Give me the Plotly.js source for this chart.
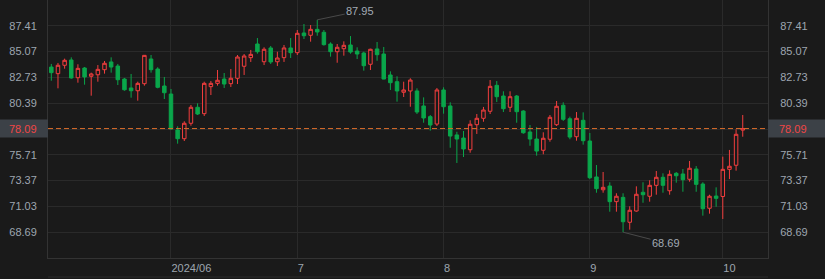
<!DOCTYPE html>
<html>
<head>
<meta charset="utf-8">
<script src="https://cdn.plot.ly/plotly-3.0.1.min.js"></script>
<style>
html,body{margin:0;padding:0;background:#1a1a1a;}
#chart{width:825px;height:279px;}
</style>
</head>
<body>
<div id="chart"></div>
<script>
// Daily OHLC, May 2024 – early Oct 2024 (one entry per trading day)
const openP = [
83.67,83.07,83.83,84.31,82.70,83.58,82.83,82.97,83.43,84.13,83.76,82.58,81.77,81.52,82.16,84.40,83.49,81.95,
81.22,77.96,77.17,78.57,80.02,79.44,81.89,82.19,82.58,82.16,82.65,83.74,84.52,85.76,84.15,85.40,84.15,84.52,85.40,
84.97,86.76,86.55,87.09,86.82,85.76,85.06,85.33,85.67,85.12,84.94,83.92,85.31,84.85,82.95,82.34,81.38,81.50,81.50,80.14,79.17,78.50,
81.59,80.14,77.51,77.23,76.17,78.44,79.02,79.66,82.01,81.04,80.02,81.04,79.68,77.78,77.14,76.12,77.12,78.44,80.20,78.98,77.35,78.84,
76.96,73.70,72.54,72.88,71.46,71.85,69.59,70.61,72.31,71.95,72.94,73.67,72.45,74.03,73.97,73.49,74.42,73.06,70.86,71.97,
71.93,74.39,74.76,77.95];
const highP = [
83.95,84.04,84.43,84.55,83.92,83.67,83.16,83.85,84.22,84.55,83.95,82.68,83.04,82.34,84.76,84.76,83.65,82.77,
81.68,78.29,78.75,80.23,80.38,82.34,82.40,83.40,83.13,83.49,84.76,84.85,85.22,86.30,85.46,85.58,85.06,85.67,86.30,
87.03,87.57,87.48,87.95,87.03,85.91,85.76,86.00,86.48,85.46,85.06,85.33,85.94,85.49,83.28,82.83,82.34,82.65,81.74,80.92,79.32,81.77,
81.83,80.47,77.80,77.87,78.84,79.41,80.05,82.49,82.40,81.47,81.47,81.13,79.75,78.41,78.23,77.75,79.32,80.59,80.47,79.17,79.59,79.56,
77.69,74.78,74.15,73.22,72.22,72.22,71.04,72.85,73.22,73.40,74.24,74.03,74.30,74.15,74.42,75.15,74.69,73.22,72.09,72.76,
75.54,76.15,78.02,79.32];
const lowP = [
82.43,81.74,83.52,82.61,82.25,82.07,81.07,82.34,83.07,83.16,82.04,81.52,80.89,80.62,81.98,83.16,81.74,80.77,
78.00,76.72,76.96,78.35,79.32,79.23,81.13,81.98,81.77,81.86,82.13,82.95,84.13,84.88,83.85,83.95,83.76,84.13,84.49,
84.76,86.21,85.97,86.51,85.61,84.61,84.06,84.70,84.88,84.40,83.34,83.40,84.24,82.56,81.59,80.53,80.95,80.07,79.41,78.62,77.90,78.32,
79.44,76.35,74.97,75.51,75.90,77.60,78.71,79.41,80.50,79.59,79.59,78.62,77.62,76.53,75.63,75.76,76.90,78.32,78.78,77.12,76.99,76.63,
73.51,72.27,72.27,70.55,70.55,68.69,68.92,70.55,71.36,71.46,72.09,72.27,72.09,73.18,72.36,73.27,72.36,70.19,70.37,71.00,
69.89,73.51,74.27,77.35];
const closeP = [
83.16,83.83,84.28,82.68,83.55,82.77,83.04,83.46,84.01,83.67,82.52,81.61,81.52,82.19,84.73,83.43,81.83,81.34,
78.05,77.17,78.57,80.02,79.41,82.19,82.19,82.47,82.13,82.65,84.58,84.67,84.82,85.06,85.28,84.13,84.49,85.40,84.97,
86.73,86.51,87.09,86.85,85.70,85.06,85.46,85.64,85.03,84.85,83.79,85.28,84.79,82.58,82.25,81.50,81.59,82.49,79.59,79.05,78.41,81.59,
80.07,77.41,77.14,76.24,78.48,79.02,79.77,81.92,80.98,79.89,80.98,79.62,77.71,77.14,76.05,77.21,79.11,80.11,78.93,77.32,79.02,76.99,
73.63,72.64,72.76,71.46,71.95,69.64,70.68,72.13,72.09,72.94,73.67,72.94,73.94,73.81,73.45,74.49,73.03,70.82,71.95,71.76,
74.39,74.67,77.57,78.09];

// x-axis month labels and the trading-day index where each month starts
const monthLabels = ['2024/06','7','8','9','10'];
const monthStartIdx = [18,37,59,81,101];

// y-axis tick values
const yTicks = [66.35,68.69,71.03,73.37,75.71,78.05,80.39,82.73,85.07,87.41,89.75];

const idx = openP.map((_, i) => i);
const last = closeP[closeP.length - 1];
const yMin = yTicks[0], yMax = yTicks[yTicks.length - 1];
let iMax = 0, iMin = 0;
highP.forEach((v, i) => { if (v > highP[iMax]) iMax = i; });
lowP.forEach((v, i) => { if (v < lowP[iMin]) iMin = i; });

const BG = '#1a1a1a', GRID = '#2a2a2a', AXL = '#333333', TXT = '#9ea6b0';
const RED = '#f23e3e', GREEN = '#0aa64b';
const FONT = 'Liberation Sans, Arial, sans-serif';
const W = 825, H = 279, ML = 48, MR = 57, MT = 0, MB = 21;
const PW = W - ML - MR, PH = H - MT - MB;

const tickText = yTicks.map(v => (v === yMin || v === yMax) ? '' : v.toFixed(2));

const trace = {
  type: 'candlestick', x: idx, open: openP, high: highP, low: lowP, close: closeP,
  increasing: { line: { color: RED, width: 1 }, fillcolor: BG },
  decreasing: { line: { color: GREEN, width: 1 }, fillcolor: GREEN },
  whiskerwidth: 0, hoverinfo: 'skip', showlegend: false
};
const ghost = { type: 'scatter', x: [idx[0]], y: [last], yaxis: 'y2', mode: 'markers',
  marker: { opacity: 0 }, hoverinfo: 'skip', showlegend: false };

const yCommon = {
  range: [yMin, yMax], tickmode: 'array', tickvals: yTicks, ticktext: tickText,
  showline: true, linecolor: AXL, linewidth: 1, zeroline: false, ticks: '',
  tickfont: { family: FONT, size: 11, color: TXT }, fixedrange: true
};

const layout = {
  width: W, height: H,
  margin: { l: ML, r: MR, t: MT, b: MB, pad: 0 },
  paper_bgcolor: BG, plot_bgcolor: BG,
  showlegend: false, boxgap: 0.25,
  xaxis: {
    range: [-0.5, 107.8], tickmode: 'array', tickvals: monthStartIdx, ticktext: monthLabels,
    showgrid: true, gridcolor: GRID, gridwidth: 1, zeroline: false,
    showline: true, linecolor: AXL, ticks: '', ticklabelposition: 'outside right',
    tickfont: { family: FONT, size: 11, color: TXT },
    rangeslider: { visible: false }, fixedrange: true
  },
  yaxis: Object.assign({}, yCommon, { side: 'left', showgrid: true, gridcolor: GRID, ticklabelstandoff: 8 }),
  yaxis2: Object.assign({}, yCommon, { side: 'right', overlaying: 'y', showgrid: false, ticklabelstandoff: 9 }),
  shapes: [
    { type: 'line', xref: 'paper', yref: 'y', x0: 0, x1: 1, y0: last, y1: last,
      line: { color: '#d86c2a', width: 1, dash: '5px,3px' }, layer: 'above' },
    { type: 'rect', xref: 'paper', yref: 'y', x0: -ML / PW, x1: 0, ysizemode: 'pixel', yanchor: last,
      y0: -9, y1: 9, fillcolor: '#3c4147', line: { width: 0 }, layer: 'above' },
    { type: 'rect', xref: 'paper', yref: 'y', x0: 1, x1: 1 + MR / PW, ysizemode: 'pixel', yanchor: last,
      y0: -9, y1: 9, fillcolor: '#3c4147', line: { width: 0 }, layer: 'above' },
    { type: 'line', xref: 'paper', yref: 'paper', x0: 0, x1: 1, y0: -19 / PH, y1: -19 / PH,
      line: { color: GRID, width: 1 } }
  ],
  annotations: [
    { xref: 'paper', yref: 'y', x: 0, y: last, xanchor: 'right', xshift: -9, showarrow: false,
      text: last.toFixed(2), font: { family: FONT, size: 11, color: '#f04646' } },
    { xref: 'paper', yref: 'y', x: 1, y: last, xanchor: 'left', xshift: 9, showarrow: false,
      text: last.toFixed(2), font: { family: FONT, size: 11, color: '#f04646' } },
    { xref: 'x', yref: 'y', x: idx[iMax], y: highP[iMax], text: highP[iMax].toFixed(2),
      showarrow: true, arrowhead: 0, arrowwidth: 1, arrowcolor: '#4a4a4a', standoff: 0,
      ax: 43, ay: -9, font: { family: FONT, size: 11, color: '#a3abb5' } },
    { xref: 'x', yref: 'y', x: idx[iMin], y: lowP[iMin], text: lowP[iMin].toFixed(2),
      showarrow: true, arrowhead: 0, arrowwidth: 1, arrowcolor: '#4a4a4a', standoff: 0,
      ax: 43, ay: 11, font: { family: FONT, size: 11, color: '#a3abb5' } }
  ]
};

Plotly.newPlot('chart', [trace, ghost], layout, { displayModeBar: false, staticPlot: true });
</script>
</body>
</html>
